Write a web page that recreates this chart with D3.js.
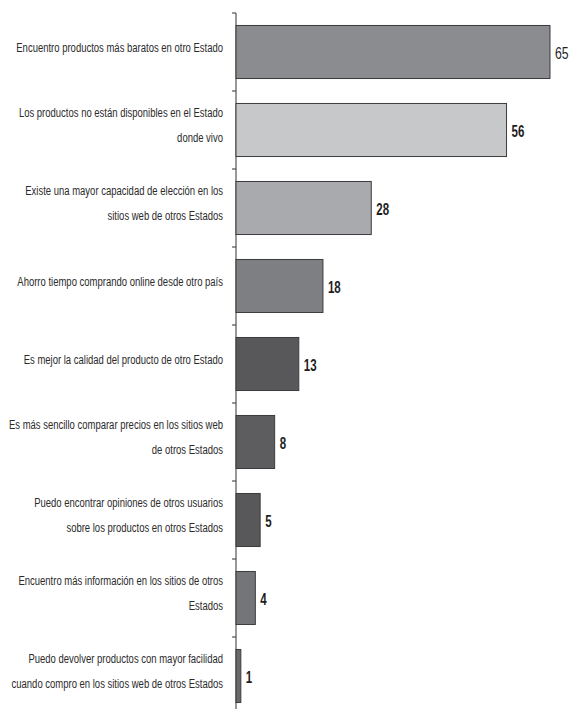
<!DOCTYPE html>
<html>
<head>
<meta charset="utf-8">
<script src="https://cdn.jsdelivr.net/npm/d3@7"></script>
<style>
  html, body { margin: 0; padding: 0; background: #ffffff; }
  svg { display: block; }
  .cat { font-family: "Liberation Sans Narrow", "Arial Narrow", "Liberation Sans", sans-serif; font-size: 13.5px; fill: #2b2b2b; }
  .val { font-family: "Liberation Sans Narrow", "Arial Narrow", "Liberation Sans", sans-serif; fill: #1e1e1e; }
</style>
</head>
<body>
<svg id="chart" width="571" height="709"></svg>
<script>
// Reasons for buying from online shops in other States (%)
const categories = [
  ["Encuentro productos más baratos en otro Estado"],
  ["Los productos no están disponibles en el Estado", "donde vivo"],
  ["Existe una mayor capacidad de elección en los", "sitios web de otros Estados"],
  ["Ahorro tiempo comprando online desde otro país"],
  ["Es mejor la calidad del producto de otro Estado"],
  ["Es más sencillo comparar precios en los sitios web", "de otros Estados"],
  ["Puedo encontrar opiniones de otros usuarios", "sobre los productos en otros Estados"],
  ["Encuentro más información en los sitios de otros", "Estados"],
  ["Puedo devolver productos con mayor facilidad", "cuando compro en los sitios web de otros Estados"]
];
const values = [65, 56, 28, 18, 13, 8, 5, 4, 1];
const barColors = ["#8b8c90", "#c7c8ca", "#a9aaad", "#7e7f82", "#58585a", "#5d5d5f", "#58585a", "#747578", "#6a6a6c"];

const svg = d3.select("#chart");
const keys = categories.map(c => c.join(" "));

const x = d3.scaleLinear().domain([0, 65]).range([236, 550]);
const y = d3.scaleBand().domain(keys).range([13, 715]).paddingInner(0.32).paddingOuter(0.16);
const gap = y.step() * y.paddingInner() / 2;

// axis line and ticks at the band boundaries
svg.append("line")
  .attr("x1", x(0)).attr("x2", x(0))
  .attr("y1", y.range()[0]).attr("y2", 709)
  .attr("stroke", "#333").attr("stroke-width", 1);
svg.selectAll("line.tick")
  .data(keys)
  .join("line")
  .attr("class", "tick")
  .attr("x1", x(0) - 4).attr("x2", x(0))
  .attr("y1", d => y(d) - gap).attr("y2", d => y(d) - gap)
  .attr("stroke", "#333").attr("stroke-width", 1);

// bars
svg.selectAll("rect.bar")
  .data(values)
  .join("rect")
  .attr("class", "bar")
  .attr("x", x(0))
  .attr("y", (d, i) => y(keys[i]))
  .attr("width", d => x(d) - x(0))
  .attr("height", y.bandwidth())
  .attr("fill", (d, i) => barColors[i])
  .attr("stroke", "#3c3c3c")
  .attr("stroke-width", 1);

// category labels
const lineGap = 25;
const labels = svg.selectAll("text.cat")
  .data(categories)
  .join("text")
  .attr("class", "cat")
  .attr("text-anchor", "end")
  .attr("dominant-baseline", "central");
labels.each(function (lines, i) {
  const cy = y(keys[i]) + y.bandwidth() / 2 - 6;
  const top = cy - (lines.length - 1) * lineGap / 2;
  d3.select(this).selectAll("tspan")
    .data(lines)
    .join("tspan")
    .attr("x", 223)
    .attr("y", (d, j) => top + j * lineGap)
    .text(d => d);
});
// squeeze the labels horizontally to a narrow face
const firstWidth = labels.nodes()[0].getComputedTextLength();
const k = Math.min(1, 207 / firstWidth);
labels.attr("transform", `translate(${223 * (1 - k)},0) scale(${k},1)`);

// value labels, condensed
svg.selectAll("text.val")
  .data(values)
  .join("text")
  .attr("class", "val")
  .attr("transform", (d, i) => `translate(${x(d) + 5},${y(keys[i]) + y.bandwidth() / 2 + 1}) scale(0.72,1)`)
  .attr("dominant-baseline", "central")
  .attr("font-size", (d, i) => i === 0 ? 17 : 16)
  .attr("font-weight", (d, i) => i === 0 ? "normal" : "bold")
  .text(d => d);
</script>
</body>
</html>
